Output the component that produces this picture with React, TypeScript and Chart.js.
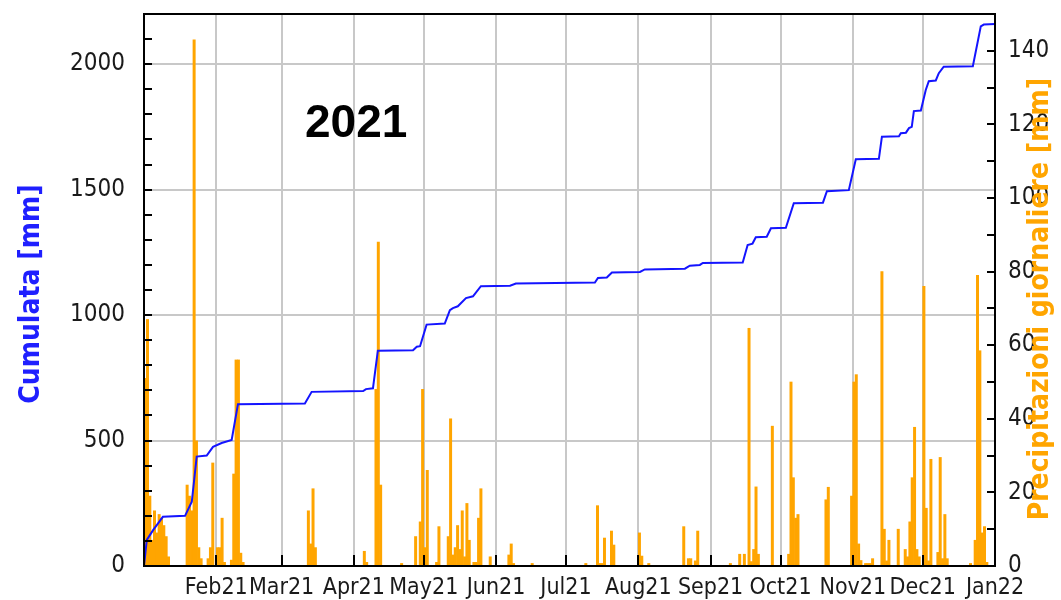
import React, { useEffect, useRef } from 'react';
import { Chart, registerables } from 'chart.js';

Chart.register(...registerables);

// ---- X axis (days of 2021, 0 = 1 Jan) ----
const monthStarts = [0, 31, 59, 90, 120, 151, 181, 212, 243, 273, 304, 334, 365];
const monthLabels = ['', 'Feb21', 'Mar21', 'Apr21', 'May21', 'Jun21', 'Jul21', 'Aug21', 'Sep21', 'Oct21', 'Nov21', 'Dec21', 'Jan22'];

// ---- Y axes tick labels ----
const leftTickLabels = [0, 500, 1000, 1500, 2000];
const rightTickLabels = [0, 20, 40, 60, 80, 100, 120, 140];

// ---- Daily precipitation [mm] (day of year, value) ----
const rainDay = [
  0, 1, 2, 3, 4, 5, 6, 7, 8, 9, 10,
  18, 19, 20, 21, 22, 23, 24,
  27, 28, 29, 31, 32, 33, 34,
  37, 38, 39, 40, 41, 42,
  70, 71, 72, 73,
  94, 95, 99, 100, 101, 110, 116, 118, 119, 120,
  121, 125, 126, 130, 131, 132, 133, 134, 135, 136, 137, 138, 139, 141, 142, 143, 144, 148,
  156, 157, 158, 166,
  189, 194, 195, 196, 197, 200, 201,
  212, 213, 216, 231, 233, 234, 236, 237,
  251, 255, 257, 259, 260, 261, 262, 263, 269,
  276, 277, 278, 279, 280, 292, 293, 303,
  304, 305, 306, 307, 309, 310, 311, 312, 316, 317, 318, 319, 323, 326, 327, 328, 329, 330, 331, 332,
  334, 335, 336, 337, 340, 341, 342, 343, 344, 354, 356, 357, 358, 359, 360, 361,
];
const rainMm = [
  51, 67, 19, 7, 15, 9, 14, 13, 11, 8, 2.5,
  22, 19, 15, 143, 34, 5, 2,
  2, 5, 28, 5, 5, 13, 1,
  1.6, 25, 56, 56, 3.5, 1,
  15, 6, 21, 5,
  4, 1, 48, 88, 22, 0.7, 8, 12, 48, 5,
  26, 1, 10.7, 8, 40, 3, 5, 11, 4.5, 15, 2.5, 17, 7, 1, 1, 13, 21, 2.5,
  3, 6, 0.7, 0.7,
  0.7, 16.4, 0.7, 0.7, 7.6, 9.5, 5.7,
  9, 2.7, 0.7, 10.7, 2, 2, 1.4, 9.5,
  0.7, 3.2, 3.2, 64.6, 1.2, 4.5, 21.5, 3.2, 38,
  3.2, 50, 24, 13, 14, 18, 21.4, 19,
  50, 52, 6, 1.5, 0.7, 0.7, 0.7, 2, 80, 10, 1.4, 7, 10, 4.5, 2.5, 12, 24, 37.7, 4.5, 2.5,
  76, 15.7, 1.4, 29, 3.7, 29.5, 2, 14, 2, 0.7, 7, 79, 58.5, 9, 10.7, 1,
];

// ---- Cumulative precipitation [mm] (breakpoints) ----
const cumDay = [
  0, 1.2, 3.9, 8.1, 17.6, 20.5, 22.6, 26.9, 29.6, 33.3, 37.6, 40.3,
  69, 71.9, 94, 95.2, 98.2, 100.3, 115.4, 117, 118.4, 121.2, 129, 131.2, 132.5,
  134.6, 138.1, 141.1, 144.5, 157, 159.5, 193.4, 194.7, 198.5, 200.7, 212.7, 214.8,
  232, 234.1, 238.4, 239.7, 256.8, 258.9, 261, 262.4, 267.1, 268.9, 275.3, 278.7,
  291.2, 292.9, 302.3, 305.3, 315.2, 316.5, 323.8, 324.6, 326.8, 328.1, 329.3, 330.2,
  333.2, 335.3, 336.6, 339.6, 340.9, 343, 355.5, 358.9, 360.2, 365,
];
const cumMm = [
  0, 104, 143, 196, 200, 256, 436, 440, 475, 490, 502, 645,
  648, 694, 697, 705, 708, 858, 860, 874, 876, 962, 966, 1020, 1028,
  1035, 1068, 1075, 1115, 1117, 1126, 1130, 1148, 1150, 1170, 1172, 1182,
  1185, 1197, 1200, 1208, 1210, 1279, 1285, 1310, 1312, 1346, 1348, 1446,
  1448, 1494, 1498, 1621, 1623, 1711, 1713, 1725, 1727, 1745, 1750, 1813,
  1815, 1897, 1932, 1935, 1964, 1990, 1992, 2151, 2158, 2160,
];

const GRID = '#c8c8c8';
const FAMILY = "'DejaVu Sans Condensed', 'DejaVu Sans', sans-serif";
const TICK_COLOR = '#1a1a1a';

const framePlugin = {
  id: 'framePlugin',
  afterDatasetsDraw(chart: any) {
    const { ctx, chartArea: a, scales } = chart;
    ctx.save();
    ctx.strokeStyle = '#000';
    ctx.lineWidth = 2;
    ctx.beginPath();
    for (let v = 100; v < 2200; v += 100) {
      const y = Math.round(scales.y.getPixelForValue(v));
      ctx.moveTo(a.left, y);
      ctx.lineTo(a.left + 8, y);
    }
    for (let v = 10; v < 150; v += 10) {
      const y = Math.round(scales.y1.getPixelForValue(v));
      ctx.moveTo(a.right, y);
      ctx.lineTo(a.right - 8, y);
    }
    for (let i = 1; i < monthStarts.length - 1; i++) {
      const x = Math.round(scales.x.getPixelForValue(monthStarts[i]));
      ctx.moveTo(x, a.bottom);
      ctx.lineTo(x, a.bottom - 11);
    }
    ctx.stroke();
    ctx.strokeRect(a.left, a.top, a.right - a.left, a.bottom - a.top);
    ctx.restore();
  },
  afterDraw(chart: any) {
    const { ctx, chartArea: a } = chart;
    const midY = (a.top + a.bottom) / 2;
    ctx.save();
    ctx.textAlign = 'center';
    ctx.textBaseline = 'middle';
    ctx.font = `bold 28px ${FAMILY}`;
    ctx.fillStyle = '#1f1fff';
    ctx.save();
    ctx.translate(32, midY + 4);
    ctx.rotate(-Math.PI / 2);
    ctx.fillText('Cumulata [mm]', 0, 0);
    ctx.restore();
    ctx.fillStyle = '#ffa500';
    ctx.save();
    ctx.translate(1041, midY + 9);
    ctx.rotate(-Math.PI / 2);
    ctx.fillText('Precipitazioni giornaliere [mm]', 0, 0);
    ctx.restore();
    ctx.fillStyle = '#000';
    ctx.textAlign = 'left';
    ctx.textBaseline = 'alphabetic';
    ctx.font = "bold 46px 'Liberation Sans', Arial, sans-serif";
    ctx.fillText('2021', 305, 137);
    ctx.restore();
  },
};

export default function App() {
  const ref = useRef<HTMLCanvasElement | null>(null);

  useEffect(() => {
    if (!ref.current) return;
    const chart = new Chart(ref.current, {
      type: 'bar',
      data: {
        datasets: [
          {
            type: 'line',
            label: 'Cumulata [mm]',
            data: cumDay.map((d, i) => ({ x: d, y: cumMm[i] })),
            yAxisID: 'y',
            xAxisID: 'x',
            borderColor: '#1414ff',
            borderWidth: 2,
            pointRadius: 0,
            tension: 0,
            order: 0,
          } as any,
          {
            type: 'bar',
            label: 'Precipitazioni giornaliere [mm]',
            data: rainDay.map((d, i) => ({ x: d + 0.5, y: rainMm[i] })),
            yAxisID: 'y1',
            xAxisID: 'x',
            backgroundColor: '#ffa500',
            barPercentage: 1,
            categoryPercentage: 1,
            order: 1,
          } as any,
        ],
      },
      options: {
        responsive: false,
        animation: false,
        events: [],
        layout: { padding: { top: 14, left: 0, right: 0, bottom: 0 } },
        plugins: { legend: { display: false }, tooltip: { enabled: false }, title: { display: false } },
        scales: {
          x: {
            type: 'linear',
            min: 0,
            max: 365,
            offset: false,
            afterBuildTicks: (s: any) => {
              s.ticks = monthStarts.map((v) => ({ value: v }));
            },
            afterFit: (s: any) => {
              s.height = 34;
              s.paddingLeft = 0;
              s.paddingRight = 0;
            },
            ticks: {
              autoSkip: false,
              maxRotation: 0,
              minRotation: 0,
              padding: 8,
              font: { family: FAMILY, size: 23 },
              color: TICK_COLOR,
              callback: (_v: any, i: number) => monthLabels[i],
            },
            grid: { color: GRID, lineWidth: 2, drawTicks: false, offset: false },
            border: { display: false },
          },
          y: {
            type: 'linear',
            position: 'left',
            min: 0,
            max: 2200,
            afterBuildTicks: (s: any) => {
              s.ticks = leftTickLabels.map((v) => ({ value: v }));
            },
            afterFit: (s: any) => {
              s.width = 144;
              s.paddingTop = 0;
              s.paddingBottom = 0;
            },
            ticks: { padding: 19, font: { family: FAMILY, size: 24 }, color: TICK_COLOR, callback: (v: any) => String(v) },
            grid: { color: GRID, lineWidth: 2, drawTicks: false },
            border: { display: false },
          },
          y1: {
            type: 'linear',
            position: 'right',
            min: 0,
            max: 150,
            afterBuildTicks: (s: any) => {
              s.ticks = rightTickLabels.map((v) => ({ value: v }));
            },
            afterFit: (s: any) => {
              s.width = 66;
              s.paddingTop = 0;
              s.paddingBottom = 0;
            },
            ticks: { padding: 13, font: { family: FAMILY, size: 24 }, color: TICK_COLOR, callback: (v: any) => String(v) },
            grid: { display: false, drawTicks: false },
            border: { display: false },
          },
        },
      } as any,
      plugins: [framePlugin],
    });
    return () => chart.destroy();
  }, []);

  return (
    <div style={{ position: 'fixed', left: 0, top: 0, width: 1061, height: 600, background: '#fff' }}>
      <canvas ref={ref} width={1061} height={600} style={{ display: 'block', width: 1061, height: 600 }} />
    </div>
  );
}
